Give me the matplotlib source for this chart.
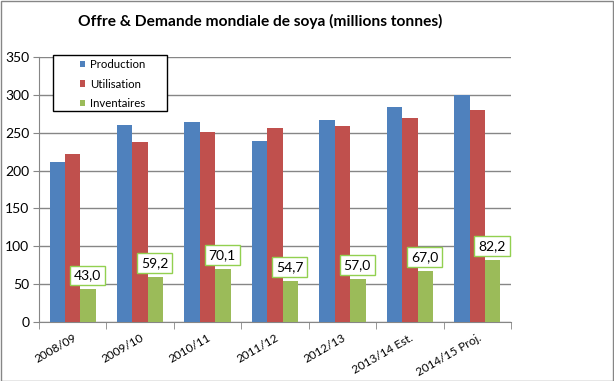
#Offre & Demande mondiale de soya, bar chart in Excel style
import numpy as np
import matplotlib.pyplot as plt
from matplotlib.patches import Rectangle

plt.rcParams['font.family'] = ['Lato', 'DejaVu Sans']

#Data (millions tonnes)
campagnes = ['2008/09', '2009/10', '2010/11', '2011/12', '2012/13', '2013/14 Est.', '2014/15 Proj.']
production = [211, 260, 264, 239, 267, 284, 300]
utilisation = [222, 238, 251, 256, 259, 270, 280]
inventaires = [43.0, 59.2, 70.1, 54.7, 57.0, 67.0, 82.2]

W, H = 614, 381
fig = plt.figure(figsize=(W/100, H/100), dpi=100)
ax = fig.add_axes([39/W, (H-322)/H, (511-39)/W, (322-57)/H])
fig.patches.append(Rectangle((0.5/W, 0.5/H), 1-1.5/W, 1-1.5/H, transform=fig.transFigure,
                             fill=False, ec='#868686', lw=1))

x = np.arange(len(campagnes))
bw = 0.229
ax.bar(x-bw, production, bw, color='#4F81BD', label='Production', zorder=3)
ax.bar(x, utilisation, bw, color='#C0504D', label='Utilisation', zorder=3)
bars = ax.bar(x+bw, inventaires, bw, color='#9BBB59', label='Inventaires', zorder=3)

for b, v in zip(bars, inventaires):
  ax.annotate(f'{v:.1f}'.replace('.', ','), (b.get_x()+b.get_width()/2, v),
              xytext=(-0.5, 10), textcoords='offset points', ha='center', va='center',
              fontsize=10, zorder=5,
              bbox=dict(boxstyle='square,pad=0.28', fc='white', ec='#92D050', lw=1))

ax.set_xlim(-0.5, len(campagnes)-0.5)
ax.set_ylim(0, 350)
ax.set_yticks(np.arange(0, 351, 50))
ax.yaxis.grid(True, color='#868686', lw=1, zorder=0)
ax.set_xticks(x)
ax.set_xticklabels(campagnes, rotation=30, ha='right', rotation_mode='anchor', fontsize=8.5)
ax.set_xticks(np.arange(-0.5, len(campagnes)), minor=True)
ax.tick_params(axis='x', which='major', length=0, pad=7)
ax.tick_params(axis='x', which='minor', length=5, color='#868686')
ax.tick_params(axis='y', length=4, color='#868686', labelsize=10, pad=3)
for s in ['top', 'right']:
  ax.spines[s].set_visible(False)
for s in ['left', 'bottom']:
  ax.spines[s].set_color('#868686')

#legend box drawn separately, entries without frame
fig.patches.append(Rectangle((53/W, (H-111)/H), 114/W, 56/H, transform=fig.transFigure,
                             fc='white', ec='black', lw=1, zorder=4))
leg = fig.legend(loc='upper left', bbox_to_anchor=(80/W, 1-59/H), fontsize=8.2,
                 handlelength=0.45, handleheight=0.45, handletextpad=0.4,
                 frameon=False, borderpad=0, borderaxespad=0, labelspacing=0.75)
leg.set_zorder(5)

fig.text(260/W, 1-21/H, 'Offre & Demande mondiale de soya (millions tonnes)',
         ha='center', va='center', fontsize=11.2, fontweight='bold')

fig.savefig('out.png', dpi=100)
